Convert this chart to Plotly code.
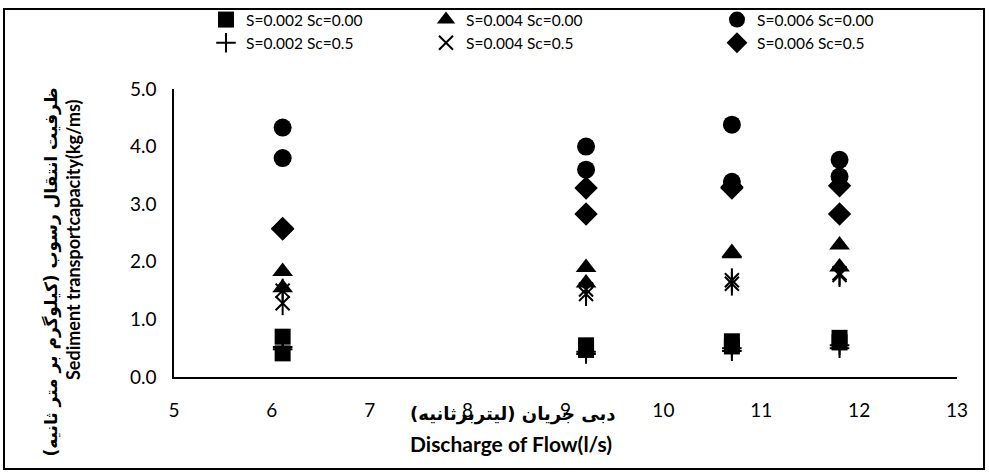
import plotly.graph_objects as go

# Discharge (l/s) of the four runs, two measurements each
discharge = [6.11, 6.11, 9.21, 9.21, 10.70, 10.70, 11.80, 11.80]

# Sediment transport capacity (kg/ms) for each slope / Sc combination
s002_sc000 = [0.70, 0.41, 0.55, 0.47, 0.62, 0.53, 0.68, 0.60]
s004_sc000 = [1.83, 1.55, 1.90, 1.63, 2.16, 2.14, 2.29, 1.91]
s006_sc000 = [4.33, 3.80, 4.00, 3.60, 4.38, 3.39, 3.77, 3.48]
s002_sc05 = [0.52, 0.48, 0.40, 0.44, 0.45, 0.50, 0.50, 0.55]
s004_sc05 = [1.50, 1.28, 1.52, 1.44, 1.68, 1.62, 1.80, 1.77]
s006_sc05 = [2.58, 2.57, 3.28, 2.83, 3.30, 3.28, 3.32, 2.83]

y_ticks = [0, 1, 2, 3, 4, 5]
x_ticks = [5, 6, 7, 8, 9, 10, 11, 12, 13]

FONT = "Lato, 'Open Sans', sans-serif"
FA_FONT = "'DejaVu Sans', sans-serif"
BLACK = "#000000"

fig = go.Figure()


def add(name, y, symbol, legend, size=17, open_line=False):
    marker = dict(symbol=symbol, size=size, color=BLACK)
    if open_line:
        marker["line"] = dict(color=BLACK, width=2)
    fig.add_trace(go.Scatter(x=discharge, y=y, mode="markers", name=name,
                             marker=marker, legend=legend))


add("S=0.002 Sc=0.00", s002_sc000, "square", "legend", size=16)
add("S=0.004 Sc=0.00", s004_sc000, "triangle-up", "legend2", size=18)
add("S=0.006 Sc=0.00", s006_sc000, "circle", "legend3", size=18)
add("S=0.002 Sc=0.5", s002_sc05, "cross-thin-open", "legend", size=14, open_line=True)
add("S=0.004 Sc=0.5", s004_sc05, "x-thin-open", "legend2", size=14, open_line=True)
# vertical stroke completing the six-armed asterisk
fig.add_trace(go.Scatter(x=discharge, y=s004_sc05, mode="markers", showlegend=False,
                         hoverinfo="skip",
                         marker=dict(symbol="line-ns-open", size=17, color=BLACK,
                                     line=dict(color=BLACK, width=2))))
add("S=0.006 Sc=0.5", s006_sc05, "diamond", "legend3", size=18)

legend_common = dict(orientation="v", bgcolor="rgba(0,0,0,0)",
                     font=dict(family=FONT, size=15.5, color=BLACK),
                     itemwidth=30, tracegroupgap=0, yanchor="top",
                     xanchor="left", traceorder="normal")

W, H = 989, 472
L, R, T, B = 174, 32, 89, 95
pw, ph = W - L - R, H - T - B


def px_x(px):
    return (px - L) / pw


def px_y(py):
    return (H - B - py) / ph


fig.update_layout(
    width=W, height=H,
    margin=dict(l=L, r=R, t=T, b=B, autoexpand=False),
    paper_bgcolor="white", plot_bgcolor="white",
    font=dict(family=FONT, size=16, color=BLACK),
    showlegend=True,
    legend=dict(x=px_x(206), y=px_y(3), **legend_common),
    legend2=dict(x=px_x(426), y=px_y(3), **legend_common),
    legend3=dict(x=px_x(717), y=px_y(3), **legend_common),
    xaxis=dict(range=[5, 13], tickvals=x_ticks, ticktext=[str(v) for v in x_ticks],
               showgrid=False, zeroline=False, showline=True, linecolor=BLACK,
               linewidth=1.5, ticks="", ticklabelstandoff=15,
               tickfont=dict(family=FONT, size=19, color=BLACK)),
    yaxis=dict(range=[0, 5], tickvals=y_ticks, ticktext=[f"{v:.1f}" for v in y_ticks],
               showgrid=False, zeroline=False, showline=True, linecolor=BLACK,
               linewidth=1.5, ticks="", ticklabelstandoff=12,
               tickfont=dict(family=FONT, size=19, color=BLACK)),
)

# outer frame around the whole chart
fig.add_shape(type="rect", xref="paper", yref="paper",
              x0=px_x(4), x1=px_x(984), y0=px_y(469), y1=px_y(9),
              line=dict(color=BLACK, width=2), fillcolor="rgba(0,0,0,0)")

# axis titles (Persian + English)
fig.add_annotation(text="<b>دبی جریان (لیتربرثانیه)</b>", xref="paper", yref="paper",
                   x=px_x(512), y=px_y(427), showarrow=False,
                   font=dict(family=FA_FONT, size=18, color=BLACK))
fig.add_annotation(text="<b>Discharge of Flow(l/s)</b>", xref="paper", yref="paper",
                   x=px_x(511), y=px_y(458), showarrow=False,
                   font=dict(family=FONT, size=21, color=BLACK))
fig.add_annotation(text="<b>ظرفیت انتقال رسوب (کیلوگرم بر متر ثانیه)</b>", xref="paper",
                   yref="paper", x=px_x(38), y=px_y(272), showarrow=False, textangle=-90,
                   font=dict(family=FA_FONT, size=17, color=BLACK))
fig.add_annotation(text="<b>Sediment transportcapacity(kg/ms)</b>", xref="paper",
                   yref="paper", x=px_x(60), y=px_y(240), showarrow=False, textangle=-90,
                   font=dict(family=FONT, size=18, color=BLACK))

fig.write_html("out.html")
